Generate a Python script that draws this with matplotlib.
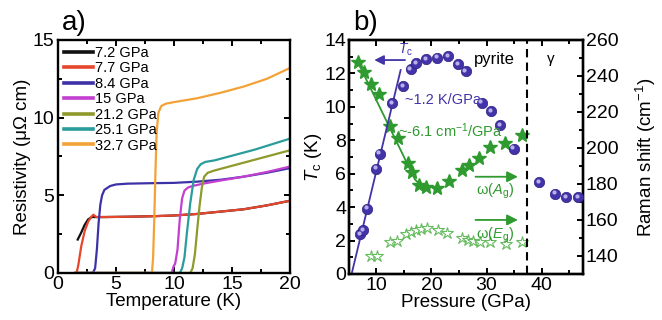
import matplotlib
matplotlib.use("Agg")
import matplotlib.pyplot as plt
from matplotlib.ticker import MultipleLocator
from matplotlib.transforms import offset_copy

plt.rcParams["font.family"] = ["Liberation Sans", "DejaVu Sans"]
plt.rcParams["mathtext.fontset"] = "custom"
plt.rcParams["mathtext.rm"] = "Liberation Sans"
plt.rcParams["mathtext.it"] = "Liberation Sans:italic"

# ---- panel a: resistivity curves (T in K, rho in uOhm cm)
labels_a = ["7.2 GPa", "7.7 GPa", "8.4 GPa", "15 GPa", "21.2 GPa", "25.1 GPa", "32.7 GPa"]
colors_a = ["#111111", "#e5462e", "#3d31a8", "#c23fcf", "#8f9a2c", "#2a9c9c", "#f2a236"]

t_72 = [1.7, 2.0, 2.3, 2.6, 2.9, 4, 6, 8, 10, 12, 14, 16, 18, 20]
r_72 = [2.15, 2.6, 3.1, 3.45, 3.6, 3.6, 3.62, 3.65, 3.7, 3.8, 3.95, 4.1, 4.35, 4.65]
t_77 = [1.5, 1.6, 1.75, 2.0, 2.3, 2.6, 2.85, 3.05, 3.3, 4, 6, 8, 10, 12, 14, 16, 18, 20]
r_77 = [0, 0, 0.5, 1.7, 2.7, 3.3, 3.6, 3.75, 3.6, 3.6, 3.62, 3.65, 3.7, 3.8, 3.95, 4.1, 4.35, 4.65]
t_84 = [1.5, 3.0, 3.2, 3.35, 3.5, 3.65, 3.8, 4.0, 4.5, 5, 6, 8, 10, 12, 14, 16, 18, 20]
r_84 = [0, 0, 0.3, 1.5, 3.2, 4.4, 5.0, 5.35, 5.6, 5.7, 5.75, 5.78, 5.8, 5.88, 6.0, 6.2, 6.45, 6.75]
t_15 = [1.5, 9.8, 9.95, 10.1, 10.3, 10.5, 10.7, 10.9, 11.2, 11.6, 12.5, 14, 16, 18, 20]
r_15 = [0, 0, 0.4, 0.6, 1.5, 3.5, 4.8, 5.3, 5.5, 5.6, 5.75, 5.95, 6.2, 6.5, 6.85]
t_212 = [1.5, 11.4, 11.6, 11.8, 12.0, 12.2, 12.4, 12.6, 12.9, 13.5, 15, 17, 20]
r_212 = [0, 0, 0.3, 1.2, 2.8, 4.3, 5.5, 6.2, 6.45, 6.6, 6.9, 7.3, 7.9]
t_251 = [1.5, 10.5, 10.7, 10.9, 11.1, 11.4, 11.7, 12.0, 12.3, 12.7, 13.5, 15, 17, 20]
r_251 = [0, 0, 0.3, 1.0, 2.5, 4.5, 6.0, 6.7, 7.0, 7.15, 7.25, 7.55, 7.95, 8.65]
t_327 = [1.5, 8.1, 8.2, 8.3, 8.4, 8.5, 8.65, 8.9, 9.3, 10, 12, 14, 16, 18, 20]
r_327 = [0, 0, 1.0, 3.5, 6.5, 9.0, 10.3, 10.75, 10.9, 11.0, 11.25, 11.6, 12.0, 12.5, 13.2]

curves_t = [t_72, t_77, t_84, t_15, t_212, t_251, t_327]
curves_r = [r_72, r_77, r_84, r_15, r_212, r_251, r_327]

# ---- panel b: Tc (left axis) and Raman modes (right axis) vs pressure
tc_p = [7.0, 7.6, 8.3, 9.9, 10.6, 12.8, 14.9, 16.2, 17.2, 19.0, 21.0, 23.0, 24.9, 26.2,
        29.1, 30.8, 32.5, 34.9, 39.6, 42.5, 44.4, 46.6]
tc_k = [2.4, 2.6, 3.9, 6.3, 7.2, 10.2, 11.25, 12.25, 12.6, 12.85, 12.95, 13.05, 12.55, 12.15,
        10.25, 9.75, 8.9, 7.5, 5.5, 4.8, 4.6, 4.6]
tc_fit_p = [5.5, 14.4]
tc_fit_k = [0.0, 12.2]

ag_p = [6.7, 7.7, 9.1, 10.5, 12.4, 14.0, 15.7, 16.5, 17.7, 19.0, 21.0, 23.1, 25.6, 26.8,
        28.6, 30.7, 33.3, 36.5]
ag_w = [247.5, 242, 235.5, 230, 212, 205.5, 191.5, 186.5, 179.5, 178.5, 177.5, 181.5, 187.5,
        190.5, 194.5, 200.5, 202.5, 207]
ag_fit_p = [6.5, 17.0, 18.0, 19.0]
ag_fit_w = [248.5, 182.5, 179.5, 178.5]

eg_p = [9.0, 10.1, 12.5, 13.8, 15.3, 16.3, 17.2, 18.1, 19.2, 21.2, 22.8, 25.6, 26.6, 27.6,
        28.8, 30.7, 33.6, 36.4]
eg_w = [140, 140, 147.5, 148.5, 152, 153.5, 154.5, 155, 155.5, 154.5, 153, 150, 149, 148.5,
        148, 147.5, 146.5, 148]

phase_boundary = 37.3

BLUE = "#4333a8"
GREEN = "#2f9a2f"
LIGHT_GREEN = "#66bb5e"

fig = plt.figure(figsize=(6.62, 3.2), dpi=100)


def style_axis(ax):
    for s in ax.spines.values():
        s.set_linewidth(1.7)
    ax.tick_params(which="both", direction="in", width=1.4, labelsize=14, pad=2)
    ax.tick_params(which="major", length=4)
    ax.tick_params(which="minor", length=3)


# panel a
ax1 = fig.add_axes([0.0876, 0.147, 0.3505, 0.728])
for t, r, c, lab in zip(curves_t, curves_r, colors_a, labels_a):
    ax1.plot(t, r, color=c, lw=1.6, label=lab)
ax1.set_xlim(0, 20)
ax1.set_ylim(0, 15)
ax1.xaxis.set_major_locator(MultipleLocator(5))
ax1.xaxis.set_minor_locator(MultipleLocator(2.5))
ax1.yaxis.set_major_locator(MultipleLocator(5))
ax1.yaxis.set_minor_locator(MultipleLocator(2.5))
style_axis(ax1)
ax1.tick_params(which="both", top=True, right=True)
ax1.tick_params(axis="y", pad=3)
ax1.set_xlabel("Temperature (K)", fontsize=13.5, labelpad=0)
ax1.set_ylabel("Resistivity (\u03bc\u03a9 cm)", fontsize=13.5, labelpad=1)
leg = ax1.legend(loc="upper left", frameon=False, fontsize=10.5, handlelength=2.0,
                 handletextpad=0.15, labelspacing=0.1, borderaxespad=0.2, borderpad=0.2)
for h in leg.get_lines():
    h.set_linewidth(2.6)
fig.text(0.094, 0.905, "a)", fontsize=20)

# panel b
ax2 = fig.add_axes([0.527, 0.144, 0.3535, 0.731])
ax2r = ax2.twinx()
ax2.set_zorder(ax2r.get_zorder() + 1)
ax2.patch.set_visible(False)

ax2.plot(tc_fit_p, tc_fit_k, color=BLUE, lw=1.3, zorder=2)
ax2.scatter(tc_p, tc_k, s=56, color=BLUE, edgecolors="#2c2180", linewidths=0.5, zorder=3)
hl = offset_copy(ax2.transData, fig=fig, x=-1.3, y=1.3, units="dots")
ax2.scatter(tc_p, tc_k, s=9, color="#b8b0ec", linewidths=0, transform=hl, zorder=4)

ax2r.plot(ag_fit_p, ag_fit_w, color=GREEN, lw=1.3)
ax2r.plot(ag_p, ag_w, ls="none", marker="*", ms=10, color=GREEN, mec=GREEN)
ax2r.plot(eg_p, eg_w, ls="none", marker="*", ms=9, mfc="white", mec=LIGHT_GREEN, mew=0.8)

ax2.axvline(phase_boundary, color="black", lw=1.5, ls=(0, (4, 2.5)), zorder=1)

ax2.set_xlim(5, 47.5)
ax2.set_ylim(0, 14)
ax2r.set_ylim(130, 260)
ax2.xaxis.set_major_locator(MultipleLocator(10))
ax2.xaxis.set_minor_locator(MultipleLocator(5))
ax2.yaxis.set_major_locator(MultipleLocator(2))
ax2.yaxis.set_minor_locator(MultipleLocator(1))
ax2r.yaxis.set_major_locator(MultipleLocator(20))
ax2r.yaxis.set_minor_locator(MultipleLocator(10))
style_axis(ax2)
style_axis(ax2r)
ax2.tick_params(which="both", top=True)
ax2.set_xlabel("Pressure (GPa)", fontsize=13.5, labelpad=0)
ax2.set_ylabel(r"$T_\mathrm{c}$ (K)", fontsize=13.5, labelpad=0)
ax2r.set_ylabel(r"Raman shift (cm$^{-1}$)", fontsize=13.5, labelpad=11)

ax2.annotate("", xy=(9.1, 12.8), xytext=(15.7, 12.8),
             arrowprops=dict(arrowstyle="-|>", color=BLUE, lw=1.3, mutation_scale=14))
ax2.text(15.3, 12.95, r"$T_\mathrm{c}$", color=BLUE, fontsize=10, ha="center", va="bottom")
ax2.text(15.2, 10.4, "~1.2 K/GPa", color=BLUE, fontsize=10.5, ha="left", va="center")
ax2.text(14.0, 8.55, r"~-6.1 cm$^{-1}$/GPa", color=GREEN, fontsize=10.5, ha="left", va="center")
ax2.text(31.5, 12.85, "pyrite", fontsize=12, ha="center", va="center")
ax2.text(41.7, 12.85, "\u03b3", fontsize=11, ha="center", va="center")

for yw, lab in [(184, "\u03c9($A_\\mathrm{g}$)"), (160, "\u03c9($E_\\mathrm{g}$)")]:
    ax2r.annotate("", xy=(36.2, yw), xytext=(27.5, yw),
                  arrowprops=dict(arrowstyle="-|>", color=GREEN, lw=1.3, mutation_scale=16))
    ax2r.text(31.5, yw - 3, lab, color=GREEN, fontsize=10.5, ha="center", va="top")

fig.text(0.533, 0.905, "b)", fontsize=20)

fig.savefig("out.png", dpi=100)
